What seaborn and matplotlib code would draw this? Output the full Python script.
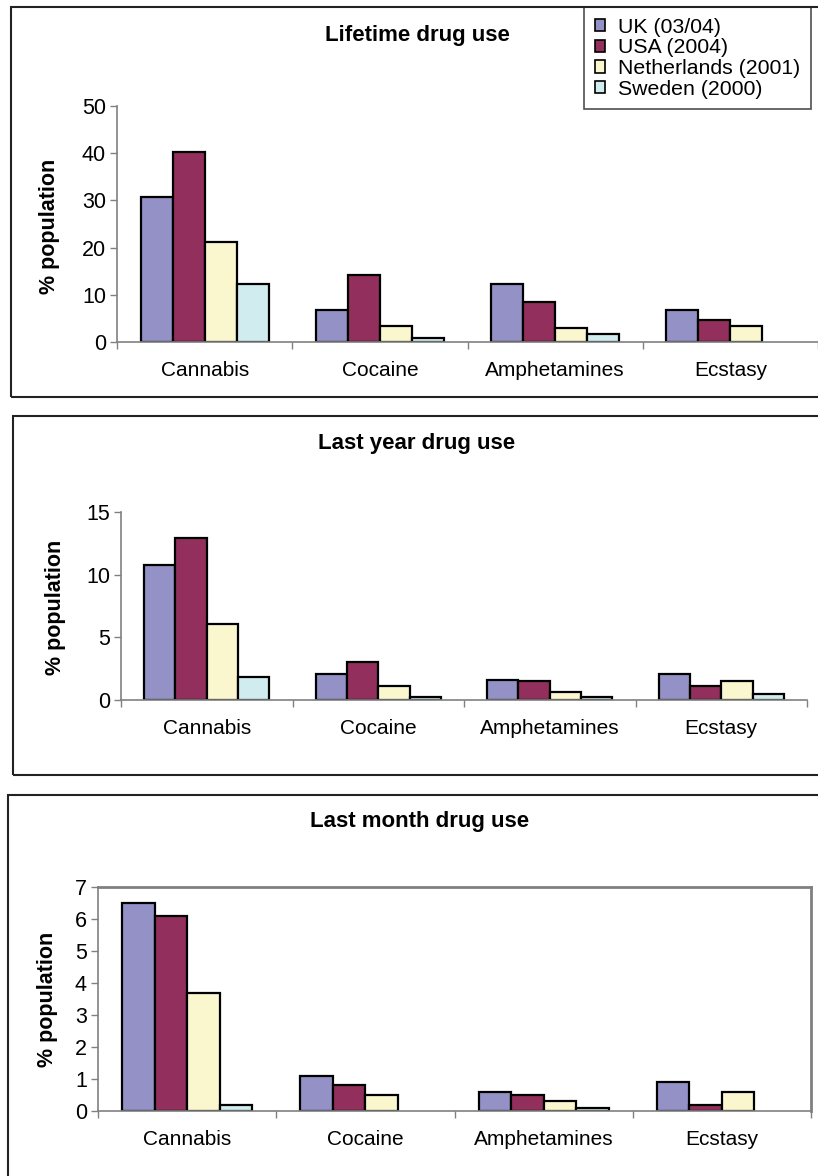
"""Three stacked bar charts of drug use by country (lifetime / last year / last month)."""

import matplotlib
matplotlib.use("Agg")
import matplotlib.pyplot as plt
import numpy as np
import pandas as pd
import seaborn as sns
from matplotlib.patches import Rectangle
from matplotlib.ticker import FixedLocator

DRUGS = ["Cannabis", "Cocaine", "Amphetamines", "Ecstasy"]
COUNTRIES = ["UK (03/04)", "USA (2004)", "Netherlands (2001)", "Sweden (2000)"]
COLOURS = ["#9391c5", "#922f5c", "#faf7cf", "#d0ecef"]

# % population, one list per country, in DRUGS order (None = no bar)
LIFETIME_UK = [30.8, 6.7, 12.2, 6.7]
LIFETIME_USA = [40.2, 14.3, 8.4, 4.6]
LIFETIME_NL = [21.1, 3.4, 2.9, 3.4]
LIFETIME_SE = [12.2, 0.9, 1.7, None]

LASTYEAR_UK = [10.8, 2.1, 1.6, 2.1]
LASTYEAR_USA = [12.9, 3.0, 1.5, 1.1]
LASTYEAR_NL = [6.1, 1.1, 0.6, 1.5]
LASTYEAR_SE = [1.8, 0.2, 0.2, 0.5]

LASTMONTH_UK = [6.5, 1.1, 0.6, 0.9]
LASTMONTH_USA = [6.1, 0.8, 0.5, 0.2]
LASTMONTH_NL = [3.7, 0.5, 0.3, 0.6]
LASTMONTH_SE = [0.2, None, 0.1, None]

TITLES = ["Lifetime drug use", "Last year drug use", "Last month drug use"]
Y_MAX = [50, 15, 7]
Y_STEP = [10, 5, 1]

W, H = 818, 1176
AXIS_GREY = "#808080"


def frame(values):
    return pd.DataFrame({
        "drug": np.tile(DRUGS, len(COUNTRIES)),
        "country": np.repeat(COUNTRIES, len(DRUGS)),
        "pct": pd.array(sum(values, []), dtype="Float64").astype(float),
    })


def fx(px):
    return px / W


def fy(py):
    return 1 - py / H


sns.set_theme(style="ticks")
plt.rcParams["font.family"] = ["Liberation Sans", "DejaVu Sans"]
plt.rcParams["text.color"] = "black"

fig = plt.figure(figsize=(W / 100, H / 100), dpi=100)

data = [
    frame([LIFETIME_UK, LIFETIME_USA, LIFETIME_NL, LIFETIME_SE]),
    frame([LASTYEAR_UK, LASTYEAR_USA, LASTYEAR_NL, LASTYEAR_SE]),
    frame([LASTMONTH_UK, LASTMONTH_USA, LASTMONTH_NL, LASTMONTH_SE]),
]
# axes box in pixels: left, right, top, bottom
axes_px = [(117, 818, 106, 342), (121, 807, 512, 700), (98, 811, 887, 1111)]
# panel border in pixels: left, top, bottom
panel_px = [(11, 7, 397), (13, 416, 775), (8, 795, 1195)]
title_px = [(417, 35), (417, 443), (420, 822)]
ylabel_px = [(50, 226), (55, 607), (47, 999)]

for i in range(3):
    left, right, top, bottom = axes_px[i]
    ax = fig.add_axes([fx(left), fy(bottom), fx(right - left), (bottom - top) / H])
    sns.barplot(data=data[i], x="drug", y="pct", hue="country", hue_order=COUNTRIES,
                palette=COLOURS, saturation=1, width=0.73, edgecolor="black",
                linewidth=1.6, ax=ax, legend=(i == 0))
    ax.set_xlabel(""); ax.set_ylabel("")
    ax.set_xlim(-0.5, 3.5); ax.set_ylim(0, Y_MAX[i])
    ax.set_yticks(np.arange(0, Y_MAX[i] + Y_STEP[i], Y_STEP[i]))
    ax.xaxis.set_minor_locator(FixedLocator(np.arange(-0.5, 4, 1)))
    ax.tick_params(axis="x", which="major", length=0, pad=13.5, labelsize=15, labelcolor="black")
    ax.tick_params(axis="x", which="minor", length=5, width=1, color=AXIS_GREY, direction="out")
    ax.tick_params(axis="y", length=5, width=1, color=AXIS_GREY, direction="out", pad=3,
                   labelsize=15.5, labelcolor="black")
    for side in ("left", "bottom"):
        ax.spines[side].set_color(AXIS_GREY); ax.spines[side].set_linewidth(1.2)
    if i < 2:
        sns.despine(ax=ax)
    else:
        for side in ("top", "right"):
            ax.spines[side].set_color(AXIS_GREY); ax.spines[side].set_linewidth(2)
    ax.set_facecolor("white")

    pl, pt, pb = panel_px[i]
    fig.add_artist(Rectangle((fx(pl), fy(pb)), fx(840 - pl), (pb - pt) / H,
                             transform=fig.transFigure, fill=False,
                             edgecolor="#222222", linewidth=1.5))
    fig.text(fx(title_px[i][0]), fy(title_px[i][1]), TITLES[i], ha="center", va="center",
             fontsize=16, fontweight="bold")
    fig.text(fx(ylabel_px[i][0]), fy(ylabel_px[i][1]), "% population", ha="center", va="center",
             rotation=90, fontsize=15.5, fontweight="bold")

    if i == 0:
        sns.move_legend(ax, "upper left", bbox_to_anchor=(fx(584), fy(7)),
                        bbox_transform=fig.transFigure, title=None, frameon=True,
                        fancybox=False, fontsize=15.3, handlelength=0.5, handleheight=0.5,
                        handletextpad=0.6, labelspacing=0.08, borderpad=0.5,
                        borderaxespad=0)
        leg = ax.get_legend()
        leg.get_frame().set_edgecolor("#222222"); leg.get_frame().set_linewidth(1.2)
        for handle in leg.legend_handles:
            handle.set_edgecolor("black"); handle.set_linewidth(1.2)

fig.savefig("out.png", dpi=100)
